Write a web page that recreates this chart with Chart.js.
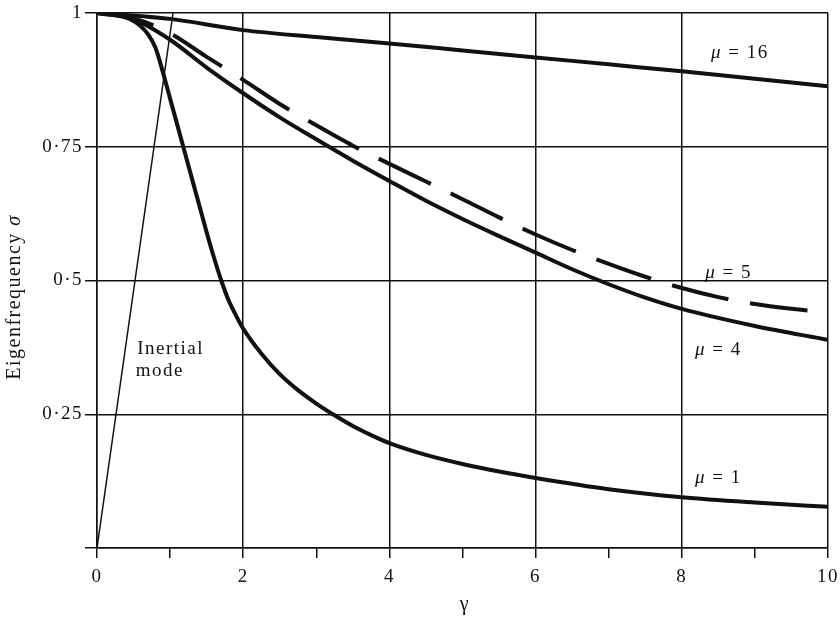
<!DOCTYPE html>
<html>
<head>
<meta charset="utf-8">
<script src="https://cdn.jsdelivr.net/npm/chart.js@4/dist/chart.umd.min.js"></script>
<style>
  html, body { margin: 0; padding: 0; background: #fff; }
  canvas { display: block; }
</style>
</head>
<body>
<canvas id="chart" width="840" height="621"></canvas>
<script>
// gamma values and eigenfrequency readings for each curve
const gamma16 = [0, 1, 2, 3, 4, 5, 6, 7, 8, 9, 10];
const sigma16 = [1, 0.989, 0.968, 0.955, 0.943, 0.930, 0.917, 0.904, 0.891, 0.877, 0.863];

const gamma5 = [0, 0.5, 1, 1.5, 2, 2.5, 3, 3.5, 4, 4.5, 5, 5.5, 6, 6.5, 7, 7.5, 8, 8.5, 9, 9.5, 10];
const sigma5 = [1, 0.99, 0.962, 0.918, 0.875, 0.83, 0.79, 0.752, 0.718, 0.685, 0.652, 0.618, 0.586, 0.557, 0.531, 0.507, 0.486, 0.469, 0.456, 0.447, 0.44];

const gamma4 = [0, 0.5, 1, 1.5, 2, 2.5, 3, 3.5, 4, 4.5, 5, 5.5, 6, 6.5, 7, 7.5, 8, 9, 10];
const sigma4 = [1, 0.988, 0.95, 0.898, 0.85, 0.805, 0.764, 0.724, 0.686, 0.649, 0.615, 0.583, 0.552, 0.521, 0.493, 0.468, 0.447, 0.415, 0.389];

const gamma1 = [0, 0.25, 0.5, 0.6, 0.7, 0.8, 0.9, 1.0, 1.1, 1.2, 1.3, 1.4, 1.5, 1.6, 1.7, 1.8, 1.9, 2.0, 2.25, 2.5, 2.75, 3.0, 3.25, 3.5, 3.75, 4.0, 4.5, 5.0, 5.5, 6, 7, 8, 9, 10];
const sigma1 = [1, 0.997, 0.985, 0.975, 0.96, 0.935, 0.89, 0.84, 0.79, 0.74, 0.69, 0.64, 0.59, 0.543, 0.5, 0.463, 0.435, 0.41, 0.363, 0.325, 0.295, 0.27, 0.248, 0.228, 0.211, 0.196, 0.174, 0.157, 0.143, 0.131, 0.11, 0.095, 0.085, 0.077];

const gammaInertial = [0, 1.04];
const sigmaInertial = [0, 1];

const xTicks = [0, 2, 4, 6, 8, 10];
const yTickLabels = { 1: '1', 0.75: '0·75', 0.5: '0·5', 0.25: '0·25' };

// curve labels, placed in data units
const curveLabels = [
  { greek: 'μ', rest: ' = 16', x: 8.4, y: 0.925 },
  { greek: 'μ', rest: ' = 5', x: 8.32, y: 0.514 },
  { greek: 'μ', rest: ' = 4', x: 8.18, y: 0.37 },
  { greek: 'μ', rest: ' = 1', x: 8.18, y: 0.131 }
];
const inertialLabel = ['Inertial', 'mode'];

const FONT = '"Liberation Serif", "Times New Roman", serif';

function points(xs, ys) {
  return xs.map((x, i) => ({ x: x, y: ys[i] }));
}

function curve(data, width, dash) {
  return {
    data: data,
    borderColor: '#111',
    borderWidth: width,
    borderDash: dash || [],
    pointRadius: 0,
    showLine: true,
    fill: false,
    cubicInterpolationMode: 'monotone',
    borderCapStyle: 'butt'
  };
}

const textPlugin = {
  id: 'textPlugin',
  beforeDraw(chart) {
    const ctx = chart.ctx;
    ctx.save();
    ctx.fillStyle = '#fff';
    ctx.fillRect(0, 0, chart.width, chart.height);
    ctx.restore();
    ctx.letterSpacing = '1.5px';
  },
  afterDraw(chart) {
    const ctx = chart.ctx;
    const xs = chart.scales.x, ys = chart.scales.y;
    ctx.save();
    ctx.fillStyle = '#111';
    ctx.textBaseline = 'middle';
    ctx.letterSpacing = '1.5px';

    // μ labels
    curveLabels.forEach(l => {
      const px = xs.getPixelForValue(l.x), py = ys.getPixelForValue(l.y);
      ctx.textAlign = 'left';
      ctx.font = 'italic 19px ' + FONT;
      ctx.fillText(l.greek, px, py);
      const w = ctx.measureText(l.greek).width;
      ctx.font = '19px ' + FONT;
      ctx.fillText(l.rest, px + w, py);
    });

    // inertial mode label
    ctx.font = '19px ' + FONT;
    ctx.textAlign = 'left';
    ctx.fillText(inertialLabel[0], xs.getPixelForValue(0.55), ys.getPixelForValue(0.372));
    ctx.fillText(inertialLabel[1], xs.getPixelForValue(0.53), ys.getPixelForValue(0.331));

    // axis titles
    ctx.textAlign = 'center';
    ctx.font = '20px ' + FONT;
    ctx.fillText('γ', 465, 605);

    ctx.translate(15, 297);
    ctx.rotate(-Math.PI / 2);
    ctx.font = 'italic 20px ' + FONT;
    const sw = ctx.measureText('σ').width;
    ctx.font = '20px ' + FONT;
    const ew = ctx.measureText('Eigenfrequency ').width;
    const half = (ew + sw) / 2;
    ctx.textAlign = 'left';
    ctx.fillText('Eigenfrequency ', -half, 0);
    ctx.font = 'italic 20px ' + FONT;
    ctx.fillText('σ', -half + ew, 0);
    ctx.restore();
  }
};

new Chart(document.getElementById('chart'), {
  type: 'scatter',
  data: {
    datasets: [
      curve(points(gammaInertial, sigmaInertial), 1.5),
      curve(points(gamma16, sigma16), 4),
      curve(points(gamma5, sigma5), 4, [58, 22]),
      curve(points(gamma4, sigma4), 4),
      curve(points(gamma1, sigma1), 4)
    ]
  },
  options: {
    responsive: false,
    animation: false,
    layout: { padding: { left: 0, right: 12, top: 13, bottom: 0 } },
    plugins: {
      legend: { display: false },
      tooltip: { enabled: false }
    },
    scales: {
      x: {
        type: 'linear',
        min: 0,
        max: 10,
        afterFit(scale) {
          scale.height = 73;
          scale.paddingLeft = 0;
          scale.paddingRight = 0;
        },
        ticks: {
          stepSize: 1,
          autoSkip: false,
          maxRotation: 0,
          padding: 8,
          color: '#111',
          font: { family: FONT, size: 19 },
          callback: v => xTicks.includes(v) ? String(v) : ''
        },
        grid: {
          color: c => (c.tick && c.tick.value % 2 === 0) ? '#111' : 'rgba(0,0,0,0)',
          tickColor: '#111',
          lineWidth: 1.5,
          tickLength: 10
        },
        border: { color: '#111', width: 1.5 }
      },
      y: {
        type: 'linear',
        min: 0,
        max: 1,
        afterFit(scale) {
          scale.width = 97;
          scale.paddingTop = 0;
          scale.paddingBottom = 0;
        },
        ticks: {
          stepSize: 0.25,
          padding: 2,
          color: '#111',
          font: { family: FONT, size: 19 },
          callback: v => yTickLabels[v] || ''
        },
        grid: {
          color: '#111',
          tickColor: '#111',
          lineWidth: 1.5,
          tickLength: 12
        },
        border: { color: '#111', width: 1.5 }
      }
    }
  },
  plugins: [textPlugin]
});
</script>
</body>
</html>
